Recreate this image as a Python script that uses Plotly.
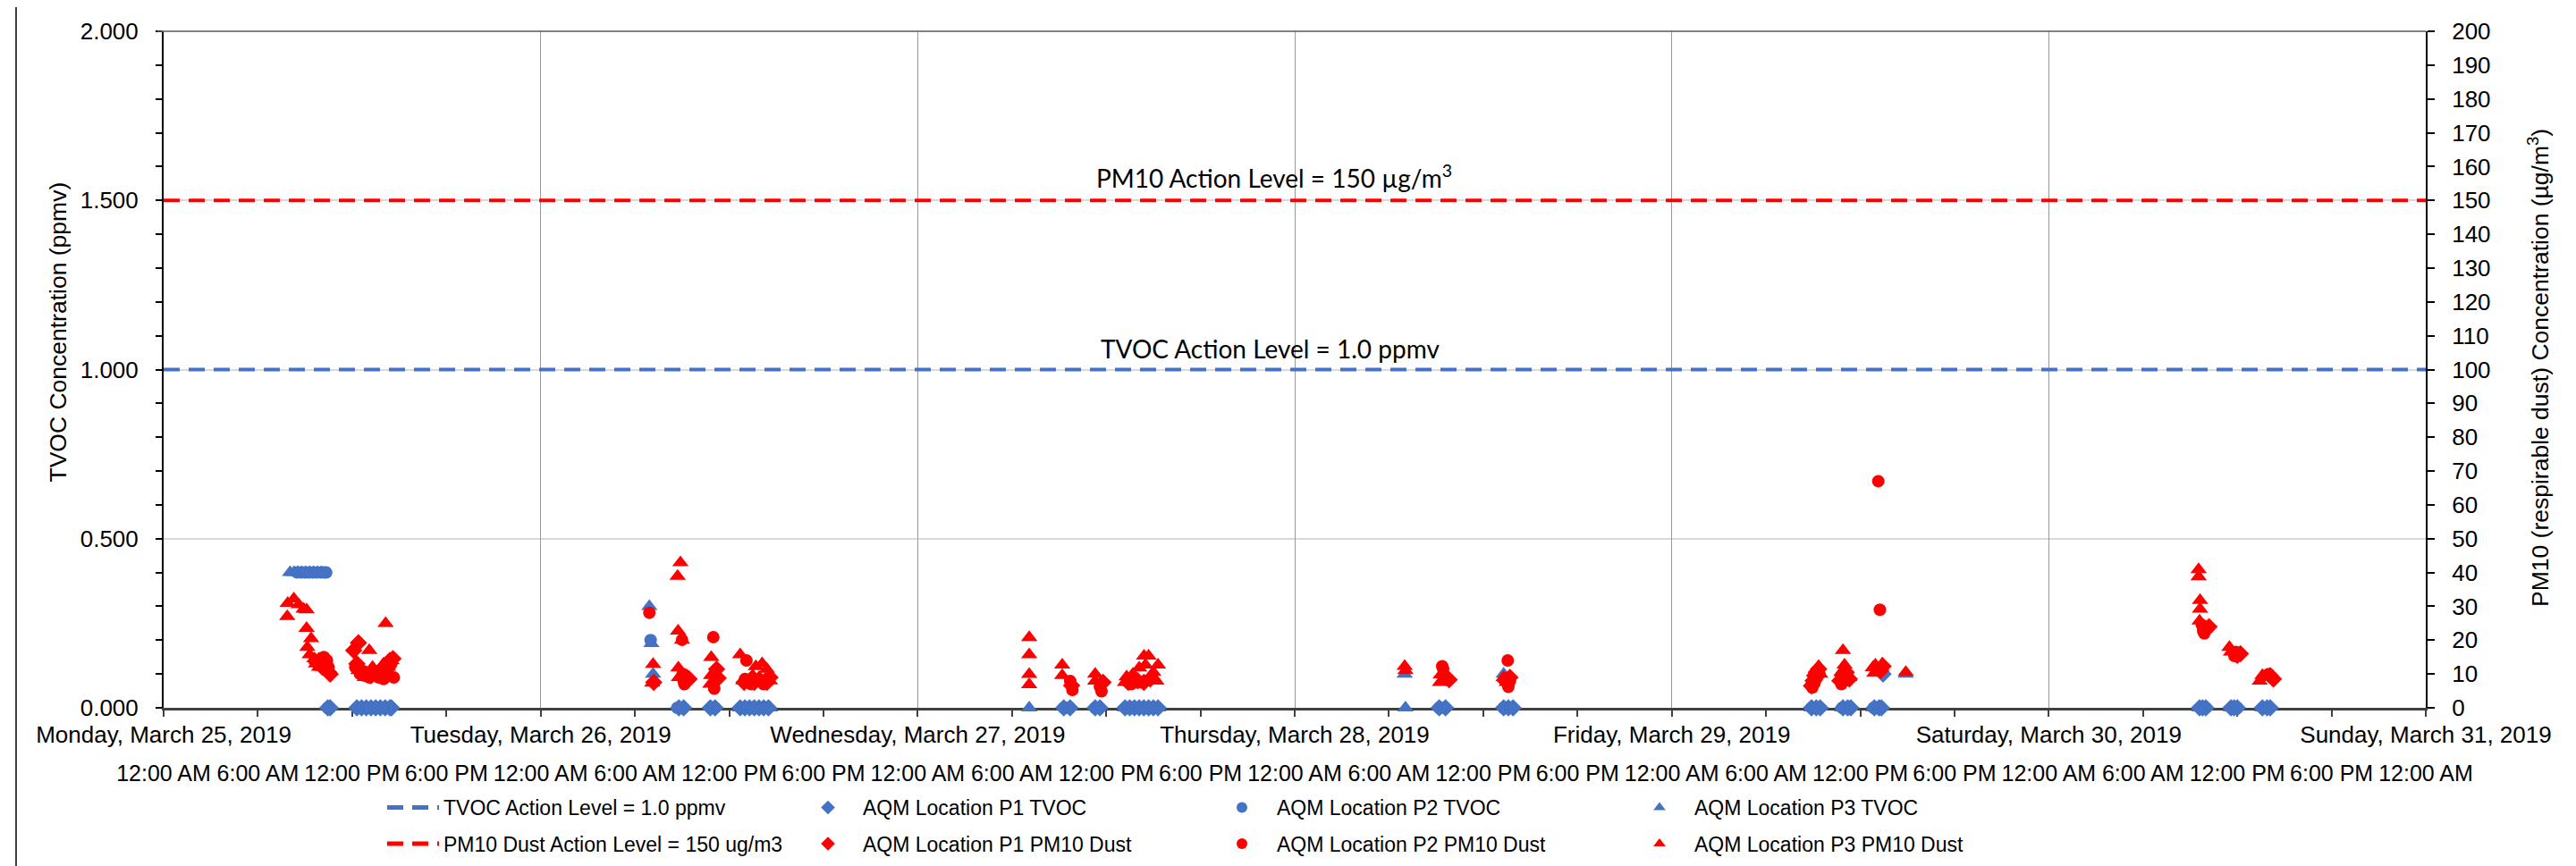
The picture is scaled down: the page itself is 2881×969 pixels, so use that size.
import pandas as pd
import plotly.graph_objects as go

START = pd.Timestamp("2019-03-25 00:00")
END = pd.Timestamp("2019-03-31 00:00")

day_labels = ["Monday, March 25, 2019", "Tuesday, March 26, 2019", "Wednesday, March 27, 2019",
              "Thursday, March 28, 2019", "Friday, March 29, 2019", "Saturday, March 30, 2019",
              "Sunday, March 31, 2019"]
time_labels = ["12:00 AM", "6:00 AM", "12:00 PM", "6:00 PM"]

tvoc_action_level = 1.0      # ppmv
pm10_action_level = 150.0    # ug/m3

# (hours since Monday 2019-03-25 00:00, value)
p1_tvoc = [(10.45, 0), (10.6, 0), (12.3, 0), (12.6, 0), (12.9, 0), (13.2, 0), (13.5, 0), (13.8, 0), (14.1, 0), (14.4, 0), (14.5, 0),
           (32.8, 0), (33.1, 0), (34.8, 0), (35.1, 0), (36.7, 0), (37.0, 0), (37.3, 0), (37.6, 0), (37.9, 0), (38.2, 0), (38.5, 0),
           (57.3, 0), (57.7, 0), (59.3, 0), (59.6, 0), (61.2, 0), (61.5, 0), (61.8, 0), (62.1, 0), (62.4, 0), (62.7, 0), (63.0, 0), (63.3, 0),
           (81.2, 0), (81.6, 0), (85.3, 0), (85.6, 0), (85.9, 0),
           (104.9, 0), (105.2, 0), (105.45, 0), (106.9, 0), (107.2, 0), (107.4, 0), (108.9, 0), (109.2, 0), (109.35, 0), (109.45, 0.10),
           (129.6, 0), (129.8, 0), (130.0, 0), (131.6, 0), (131.8, 0), (132.0, 0), (133.6, 0), (133.9, 0), (134.1, 0)]

p2_tvoc = [(8.5, 0.4), (8.75, 0.4), (9.0, 0.4), (9.25, 0.4), (9.5, 0.4), (9.75, 0.4), (10.0, 0.4), (10.2, 0.4), (10.35, 0.4),
           (10.45, 0), (12.32, 0), (12.7, 0), (13.1, 0), (13.5, 0), (13.9, 0), (14.3, 0),
           (31.0, 0.20), (32.7, 0), (33.0, 0), (34.9, 0), (35.1, 0), (36.8, 0), (37.2, 0), (37.6, 0), (38.0, 0), (38.4, 0),
           (57.3, 0), (57.6, 0), (59.3, 0), (59.5, 0), (61.3, 0), (61.8, 0), (62.3, 0), (62.8, 0),
           (81.2, 0), (81.5, 0), (85.3, 0), (85.7, 0),
           (104.9, 0), (105.3, 0), (106.85, 0), (107.2, 0), (108.85, 0), (109.2, 0),
           (129.7, 0), (130.0, 0), (131.7, 0), (132.0, 0), (133.7, 0), (134.0, 0)]

p3_tvoc = [(8.05, 0.4), (8.3, 0.4), (8.55, 0.4), (8.8, 0.4), (9.05, 0.4), (9.3, 0.4), (9.55, 0.4), (9.8, 0.4), (10.05, 0.4),
           (30.92, 0.30), (31.05, 0.19), (31.16, 0.10), (36.7, 0), (37.1, 0), (37.5, 0), (37.9, 0), (38.3, 0), (38.6, 0),
           (55.1, 0), (61.2, 0), (61.7, 0), (62.2, 0), (62.7, 0), (63.3, 0),
           (79.0, 0.10), (79.05, 0), (85.3, 0.10),
           (104.9, 0), (106.85, 0), (108.85, 0), (110.9, 0.10),
           (129.6, 0), (131.6, 0), (133.6, 0)]

p1_pm = [(9.9, 14), (10.1, 12), (10.3, 11.5), (10.5, 10.5), (10.6, 10), (12.1, 17), (12.4, 19.2), (12.3, 13), (12.6, 11), (12.9, 10),
         (13.2, 9.5), (13.5, 10), (13.8, 11), (14.1, 12), (14.4, 14), (14.6, 14.5),
         (31.2, 7.5), (33.3, 9.0), (33.45, 8.5), (35.2, 11.4), (35.3, 8.8), (36.95, 7.5), (37.3, 8.0), (37.6, 7.5), (38.0, 8.0), (38.4, 7.5), (38.6, 9.0),
         (57.8, 6.6), (59.8, 7.5), (61.4, 7.5), (62.0, 8.0), (62.4, 7.5), (62.8, 8.5),
         (81.83, 8.3), (81.6, 9.0), (85.4, 8.0), (85.7, 9.0),
         (104.9, 6.5), (105.0, 8.0), (105.1, 9.5), (105.2, 10.5), (105.35, 11.5), (106.7, 8.0), (106.9, 9.5), (107.1, 10.5), (107.3, 8.5),
         (109.3, 11.0), (109.45, 12.3),
         (130.2, 24.0), (130.0, 23.0), (132.2, 16.0), (132.0, 15.5), (134.3, 8.5), (134.1, 9.5)]

p2_pm = [(9.6, 14), (9.8, 13), (10.0, 13), (10.2, 15), (10.4, 14), (10.5, 12), (12.2, 12), (12.5, 10), (12.8, 9.5), (13.1, 9), (13.4, 10),
         (13.7, 9), (14.0, 8.5), (14.3, 10), (14.5, 13), (14.65, 9),
         (30.92, 28.1), (33.0, 20.1), (33.05, 10.0), (33.1, 8.0), (33.15, 7.0), (34.99, 20.9), (35.1, 9.0), (35.05, 5.7), (37.1, 14.0),
         (37.0, 8.5), (37.4, 7.0), (37.8, 8.0), (38.2, 7.0), (38.5, 8.0),
         (57.71, 7.9), (57.85, 5.3), (59.6, 6.2), (59.7, 4.9), (61.6, 7.0), (62.2, 7.5),
         (81.39, 12.3), (81.45, 11.5), (85.56, 14.0), (85.6, 6.2), (85.7, 8.0),
         (104.95, 6.0), (105.1, 7.5), (105.25, 9.0), (105.4, 10.0), (106.8, 7.0), (107.0, 8.0), (107.2, 9.0), (109.15, 67.0), (109.25, 29.0),
         (129.83, 22.7), (129.9, 22.0), (129.75, 24.5), (131.82, 15.3), (131.9, 16.5), (134.0, 10.0), (134.2, 9.0)]

p3_pm = [(7.87, 27.0), (7.9, 30.9), (8.29, 32.2), (8.6, 30.5), (8.91, 29.2), (9.1, 29.0), (9.1, 23.5), (9.39, 20.5), (9.15, 17.9), (9.3, 15.7),
         (9.6, 14.5), (9.7, 13), (9.9, 12), (10.1, 12), (12.4, 11), (12.8, 9), (13.09, 17.0), (13.3, 12), (13.5, 9), (13.7, 11), (14.0, 13),
         (14.13, 25.0), (14.3, 12), (14.5, 14),
         (31.16, 12.9), (31.1, 7.3), (32.9, 42.9), (32.72, 38.9), (32.75, 22.7), (32.77, 11.8), (33.0, 20.0), (32.8, 9.0), (34.86, 14.9),
         (34.85, 9.6), (34.8, 7.0), (36.7, 15.7), (36.9, 8.0), (37.2, 7.5), (37.5, 9.6), (37.7, 12.2), (37.9, 9.0), (38.1, 13.1), (38.3, 8.5),
         (38.4, 11.4), (38.6, 8.0),
         (55.1, 20.8), (55.1, 15.7), (55.1, 9.9), (55.1, 6.9), (57.2, 12.7), (57.2, 9.6), (59.3, 10.0), (59.3, 7.9), (61.2, 7.5), (61.3, 9.2),
         (61.7, 10.0), (62.1, 11.8), (62.41, 15.3), (62.5, 12.7), (62.7, 15.3), (63.0, 10.5), (63.2, 7.9), (63.3, 12.7),
         (79.0, 12.3), (79.05, 11.0), (81.3, 9.8), (81.25, 7.5), (85.3, 9.0), (85.5, 7.5),
         (104.9, 7.5), (105.05, 9.0), (105.2, 11.0), (105.35, 12.3), (105.45, 10.0), (106.8, 10.5), (106.9, 17.0), (107.0, 12.7), (107.1, 11.0),
         (107.3, 9.0), (108.8, 11.9), (108.9, 10.3), (108.96, 12.7), (109.4, 13.0), (110.9, 10.5),
         (129.54, 40.9), (129.54, 38.8), (129.63, 31.8), (129.63, 29.2), (129.6, 25.7), (131.5, 17.9), (131.6, 16.5), (133.43, 7.9),
         (133.6, 9.6), (133.8, 9.0)]

BLUE = "#4472C4"
RED = "#FF0000"
ARIAL = "Liberation Sans, Arial, sans-serif"
MARKER_SIZE = {"diamond": 15, "circle": 14, "triangle-up": 16}

# plot-area geometry in pixels (for placing out-of-plot elements)
W, H = 2881, 969
L, R, T, B = 175, 176, 25, 177
PW, PH = W - L - R, H - T - B


def px(x):
    return (x - L) / PW


def py(y):
    return (H - B - y) / PH


def to_xy(pairs):
    hrs = [p[0] for p in pairs]
    vals = [p[1] for p in pairs]
    return START + pd.to_timedelta(hrs, unit="h"), vals


fig = go.Figure()

fig.add_trace(go.Scatter(x=[START, END], y=[tvoc_action_level] * 2, mode="lines", xaxis="x2", yaxis="y",
                         name="TVOC Action Level = 1.0 ppmv", legend="legend",
                         line=dict(color=BLUE, width=4, dash="18px,10px")))
fig.add_trace(go.Scatter(x=[START, END], y=[pm10_action_level] * 2, mode="lines", yaxis="y2",
                         name="PM10 Dust Action Level = 150 ug/m3", legend="legend2",
                         line=dict(color=RED, width=4, dash="18px,10px")))

series = [
    (p1_tvoc, "AQM Location P1 TVOC", BLUE, "diamond", "y", "legend3"),
    (p2_tvoc, "AQM Location P2 TVOC", BLUE, "circle", "y", "legend5"),
    (p3_tvoc, "AQM Location P3 TVOC", BLUE, "triangle-up", "y", "legend7"),
    (p1_pm, "AQM Location P1 PM10 Dust", RED, "diamond", "y2", "legend4"),
    (p2_pm, "AQM Location P2 PM10 Dust", RED, "circle", "y2", "legend6"),
    (p3_pm, "AQM Location P3 PM10 Dust", RED, "triangle-up", "y2", "legend8"),
]
for data, name, color, sym, yax, leg in series:
    x, y = to_xy(data)
    fig.add_trace(go.Scatter(x=x, y=y, mode="markers", name=name, yaxis=yax, legend=leg, cliponaxis=False,
                             marker=dict(color=color, symbol=sym, size=MARKER_SIZE[sym], line=dict(width=0))))

time_ticks = pd.date_range(START, END, freq="6h")
time_text = [time_labels[i % 4] for i in range(len(time_ticks))]
day_ticks = pd.date_range(START, END, freq="D")

legend_common = dict(xanchor="left", yanchor="middle", orientation="v", bgcolor="rgba(0,0,0,0)",
                     borderwidth=0, itemsizing="constant", font=dict(family=ARIAL, size=23, color="black"))
row1, row2 = py(905), py(946)
cols = [px(420), px(879), px(1342), px(1809)]

layout_legends = {
    "legend": dict(x=cols[0], y=row1, itemwidth=58, **legend_common),
    "legend2": dict(x=cols[0], y=row2, itemwidth=58, **legend_common),
    "legend3": dict(x=cols[1], y=row1, itemwidth=68, **legend_common),
    "legend4": dict(x=cols[1], y=row2, itemwidth=68, **legend_common),
    "legend5": dict(x=cols[2], y=row1, itemwidth=68, **legend_common),
    "legend6": dict(x=cols[2], y=row2, itemwidth=68, **legend_common),
    "legend7": dict(x=cols[3], y=row1, itemwidth=68, **legend_common),
    "legend8": dict(x=cols[3], y=row2, itemwidth=68, **legend_common),
}

fig.update_layout(
    width=W, height=H,
    margin=dict(l=L, r=R, t=T, b=B),
    paper_bgcolor="white", plot_bgcolor="white",
    font=dict(family=ARIAL, color="black"),
    showlegend=True,
    xaxis=dict(type="date", range=[START, END], tickmode="array", tickvals=time_ticks, ticktext=time_text,
               tickangle=0, tickfont=dict(size=25, family=ARIAL, color="black"),
               ticks="outside", ticklen=7, tickwidth=2, tickcolor="#404040",
               showline=True, linecolor="#404040", linewidth=3, showgrid=False, zeroline=False,
               ticklabelstandoff=42, layer="below traces"),
    xaxis2=dict(type="date", range=[START, END], overlaying="x", anchor="y", side="bottom",
                tickmode="array", tickvals=day_ticks, ticktext=day_labels, tickangle=0,
                tickfont=dict(size=26, family=ARIAL, color="black"), ticks="", showline=False,
                showgrid=True, gridcolor="#999999", gridwidth=1.3, zeroline=False,
                ticklabelstandoff=12, layer="below traces"),
    yaxis=dict(range=[0, 2], dtick=0.5, tickformat=".3f", tickfont=dict(size=26, family=ARIAL, color="black"),
               ticks="outside", ticklen=7, tickwidth=1.5, tickcolor="black",
               minor=dict(dtick=0.1, ticks="outside", ticklen=7, tickwidth=1.5, tickcolor="black", showgrid=False),
               showline=True, linecolor="black", linewidth=2, showgrid=True, gridcolor="#D9D9D9", gridwidth=1.5,
               zeroline=False, ticklabelstandoff=14, layer="below traces"),
    yaxis2=dict(range=[0, 200], dtick=10, overlaying="y", side="right", anchor="x",
                tickfont=dict(size=26, family=ARIAL, color="black"),
                ticks="outside", ticklen=8, tickwidth=1.5, tickcolor="black",
                showline=True, linecolor="black", linewidth=2, showgrid=False, zeroline=False,
                ticklabelstandoff=14, layer="below traces"),
    **layout_legends,
)

fig.add_annotation(text="TVOC Concentration (ppmv)", textangle=-90, xref="paper", yref="paper",
                   x=px(57), y=py(366), xanchor="center", yanchor="middle", showarrow=False,
                   font=dict(family=ARIAL, size=26.5, color="black"))
fig.add_annotation(text="PM10 (respirable dust) Concentration (µg/m<sup>3</sup>)", textangle=-90, xref="paper", yref="paper",
                   x=px(2831), y=py(407), xanchor="center", yanchor="middle", showarrow=False,
                   font=dict(family=ARIAL, size=26.5, color="black"))
fig.add_annotation(text="PM10 Action Level = 150 µg/m<sup>3</sup>", xref="paper", yref="paper",
                   x=px(1417), y=py(190), xanchor="center", yanchor="middle", showarrow=False,
                   font=dict(family="Lato, sans-serif", size=28, color="black"))
fig.add_annotation(text="TVOC Action Level = 1.0 ppmv", xref="paper", yref="paper",
                   x=px(1412), y=py(385), xanchor="center", yanchor="middle", showarrow=False,
                   font=dict(family="Lato, sans-serif", size=28, color="black"))

# plot-area top border and chart-area side borders
fig.add_shape(type="line", xref="paper", yref="paper", x0=px(168), x1=1, y0=1, y1=1,
              line=dict(color="#595959", width=1.5), layer="above")
fig.add_shape(type="line", xref="paper", yref="paper", x0=px(10), x1=px(10), y0=py(-5), y1=py(975),
              line=dict(color="#404040", width=2))
fig.add_shape(type="line", xref="paper", yref="paper", x0=px(2867), x1=px(2867), y0=py(-5), y1=py(975),
              line=dict(color="#8C8C8C", width=2.5))

fig.write_html("out.html")
